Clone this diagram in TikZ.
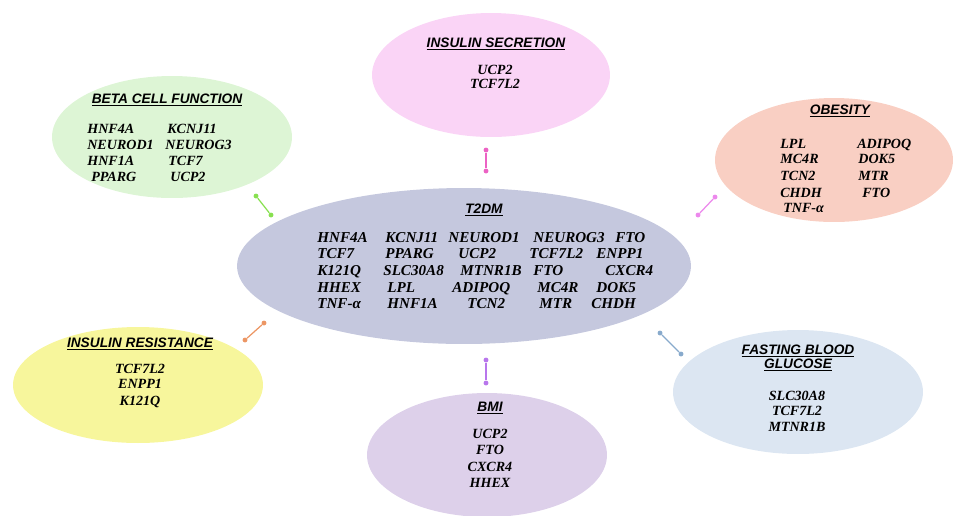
\documentclass[tikz,border=0pt]{standalone}
\usepackage{fontspec}
\setmainfont{Liberation Serif}
\setsansfont{Liberation Sans}
\usepackage{tikz}
\usetikzlibrary{shapes.geometric}

\definecolor{centrefill}{RGB}{197,200,222}
\definecolor{secrfill}{RGB}{250,212,246}
\definecolor{betafill}{RGB}{221,245,213}
\definecolor{obesfill}{RGB}{249,207,195}
\definecolor{resfill}{RGB}{247,246,156}
\definecolor{fbgfill}{RGB}{220,230,242}
\definecolor{bmifill}{RGB}{221,208,234}
\definecolor{secrlink}{RGB}{236,98,196}
\definecolor{betalink}{RGB}{136,224,80}
\definecolor{obeslink}{RGB}{236,136,236}
\definecolor{reslink}{RGB}{236,150,100}
\definecolor{fbglink}{RGB}{136,170,204}
\definecolor{bmilink}{RGB}{184,118,236}

\tikzset{
  blob/.style={ellipse, draw=none, inner sep=0pt},
  heading/.style={font=\fontsize{7.8}{9}\selectfont\sffamily\bfseries\itshape, anchor=base, inner sep=0pt},
  gene/.style={font=\fontsize{8}{9}\selectfont\bfseries\itshape, anchor=base, inner sep=0pt},
  bigene/.style={gene, font=\fontsize{8.6}{10}\selectfont\bfseries\itshape, anchor=base west},
  linkdot/.style={circle, inner sep=0pt, minimum size=2.8pt},
  link/.style={line width=0.7pt}
}

\begin{document}
\begin{tikzpicture}[x=0.02cm, y=-0.02cm]
\useasboundingbox (0,0) rectangle (953,515);

\node[blob, fill=centrefill, minimum width=9.08cm, minimum height=3.12cm] (t2dm) at (464,266) {};
\node[blob, fill=secrfill, minimum width=4.76cm, minimum height=2.48cm] (secr) at (491,75) {};
\node[blob, fill=betafill, minimum width=4.8cm, minimum height=2.44cm] (beta) at (172,137) {};
\node[blob, fill=obesfill, minimum width=4.76cm, minimum height=2.48cm] (obes) at (834,160) {};
\node[blob, fill=resfill, minimum width=5cm, minimum height=2.32cm] (res) at (138,385) {};
\node[blob, fill=fbgfill, minimum width=5cm, minimum height=2.48cm] (fbg) at (798,392) {};
\node[blob, fill=bmifill, minimum width=4.8cm, minimum height=2.48cm] (bmi) at (487,455) {};

\node[heading] (t2dmtitle) at (484,213) {\underline{T2DM}};
\node[heading] (secrtitle) at (496,47) {\underline{INSULIN SECRETION}};
\node[heading] (betatitle) at (167,103) {\underline{BETA CELL FUNCTION}};
\node[heading] (obestitle) at (840,114) {\underline{OBESITY}};
\node[heading] (restitle) at (140,347) {\underline{INSULIN RESISTANCE}};
\node[heading] (fbgtitle) at (798,354) {\underline{FASTING BLOOD}};
\node[heading] (fbgtitleb) at (798,368) {\underline{GLUCOSE}};
\node[heading] (bmititle) at (490,411) {\underline{BMI}};

\foreach \x/\y/\g [count=\i] in {317/242/HNF4A, 385/242/KCNJ11, 448/242/NEUROD1, 533/242/NEUROG3, 615/242/FTO,
    317/258/TCF7, 385/258/PPARG, 458/258/UCP2, 529/258/TCF7L2, 596/258/ENPP1,
    317/275/K121Q, 383/275/SLC30A8, 460/275/MTNR1B, 533/275/FTO, 605/275/CXCR4,
    317/292/HHEX, 387/292/LPL, 452/292/ADIPOQ, 537/292/MC4R, 596/292/DOK5,
    317/308/TNF-α, 387/308/HNF1A, 467/308/TCN2, 539/308/MTR, 591/308/CHDH}
  \node[bigene] (c\i) at (\x,\y) {\g};

\foreach \x/\y/\g [count=\i] in {87/133/HNF4A, 87/149/NEUROD1, 87/165/HNF1A, 91/181/PPARG,
    167/133/KCNJ11, 165/149/NEUROG3, 168/165/TCF7, 170/181/UCP2}
  \node[gene, anchor=base west] (b\i) at (\x,\y) {\g};

\foreach \x/\y/\g [count=\i] in {780/148/LPL, 780/163/MC4R, 780/180/TCN2, 780/197/CHDH, 783/212/TNF-α,
    857/148/ADIPOQ, 858/163/DOK5, 858/180/MTR, 862/197/FTO}
  \node[gene, anchor=base west] (o\i) at (\x,\y) {\g};

\foreach \x/\y/\g [count=\i] in {495/74/UCP2, 495/88/TCF7L2,
    140/373/TCF7L2, 140/388/ENPP1, 140/405/K121Q,
    797/400/SLC30A8, 797/415/TCF7L2, 797/431/MTNR1B,
    490/438/UCP2, 490/454/FTO, 490/471/CXCR4, 490/487/HHEX}
  \node[gene] (s\i) at (\x,\y) {\g};

\foreach \n/\c/\xa/\ya/\xb/\yb in {secr/secrlink/486/150/486/171, beta/betalink/256/196/271/215,
    obes/obeslink/715/197/698/215, res/reslink/264/323/245/340,
    fbg/fbglink/660/333/681/354, bmi/bmilink/486/360/486/383} {
  \node[linkdot, fill=\c] (\n a) at (\xa,\ya) {};
  \node[linkdot, fill=\c] (\n b) at (\xb,\yb) {};
  \draw[link, \c] (\n a) -- (\n b);
}
\end{tikzpicture}
\end{document}
